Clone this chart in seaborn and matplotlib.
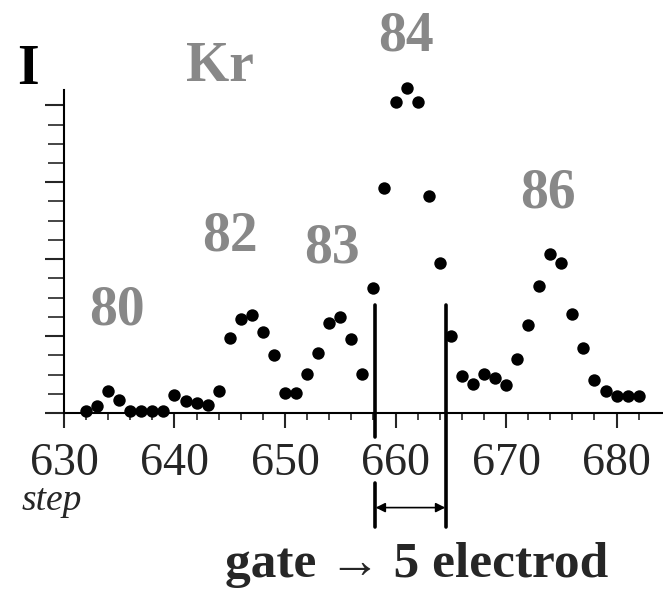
import numpy as np
import matplotlib
matplotlib.use('Agg')
import matplotlib.pyplot as plt
import seaborn as sns

# scan step and measured current (arbitrary units, one unit = one major y tick)
steps = [632, 633, 634, 635, 636, 637, 638, 639, 640, 641,
         642, 643, 644, 645, 646, 647, 648, 649, 650, 651,
         652, 653, 654, 655, 656, 657, 658, 659, 660, 661,
         662, 663, 664, 665, 666, 667, 668, 669, 670, 671,
         672, 673, 674, 675, 676, 677, 678, 679, 680, 681, 682]
intensity = [0.03, 0.095, 0.28, 0.17, 0.03, 0.03, 0.03, 0.03, 0.23, 0.16,
             0.13, 0.11, 0.28, 0.98, 1.22, 1.27, 1.05, 0.75, 0.26, 0.26,
             0.51, 0.78, 1.17, 1.25, 0.96, 0.51, 1.63, 2.93, 4.04, 4.22,
             4.04, 2.82, 1.95, 1.00, 0.48, 0.38, 0.51, 0.45, 0.37, 0.70,
             1.15, 1.65, 2.07, 1.95, 1.29, 0.85, 0.43, 0.28, 0.22, 0.22, 0.22]

# isotope labels and where they sit (step, intensity)
isotopes = ['80', '82', '83', '84', '86']
isotope_x = [634.8, 645.0, 654.2, 660.9, 673.8]
isotope_y = [1.33, 2.30, 2.14, 4.90, 2.86]

xticks = [630, 640, 650, 660, 670, 680]
gate = [658.1, 664.6]

sns.set_style('white')
plt.rcParams['font.family'] = ['Liberation Serif', 'DejaVu Serif']

fig = plt.figure(figsize=(6.63, 5.90), dpi=100)
ax = fig.add_axes([0.0965, 0.30, 0.9035, 0.5475])

sns.scatterplot(x=steps, y=intensity, color='black', s=80, linewidth=0,
                ax=ax, clip_on=False)

ax.set_xlim(630, 684.2)
ax.set_ylim(0, 4.2)
sns.despine(ax=ax)
for side in ['left', 'bottom']:
    ax.spines[side].set_linewidth(1.5)
    ax.spines[side].set_color('black')

ax.set_xticks(xticks)
ax.set_xticks(np.arange(632, 684, 2), minor=True)
ax.set_yticks([0, 1, 2, 3, 4])
ax.set_yticks(np.arange(0, 4.01, 0.25), minor=True)
ax.set_xticklabels([str(t) for t in xticks], fontsize=33)
ax.tick_params(axis='x', which='major', direction='out', length=11, width=1.5,
               pad=10, bottom=True)
ax.tick_params(axis='x', which='minor', direction='out', length=5, width=1.2,
               bottom=True)
ax.tick_params(axis='y', which='major', direction='out', length=13.5, width=1.5,
               left=True, labelleft=False)
ax.tick_params(axis='y', which='minor', direction='out', length=11.5, width=1.2,
               left=True)

# gate markers below the peak of 84
ax.plot([gate[0], gate[0]], [1.40, -0.31], color='black', lw=2.6, clip_on=False)
ax.plot([gate[0], gate[0]], [-0.91, -1.48], color='black', lw=2.6, clip_on=False)
ax.plot([gate[1], gate[1]], [1.40, -1.48], color='black', lw=2.6, clip_on=False)
ax.annotate('', xy=(gate[1] - 0.1, -1.23), xytext=(gate[0] + 0.1, -1.23),
            arrowprops=dict(arrowstyle='<|-|>', color='black', lw=1.2,
                            mutation_scale=14, shrinkA=0, shrinkB=0),
            annotation_clip=False)

for lab, xx, yy in zip(isotopes, isotope_x, isotope_y):
    ax.text(xx, yy, lab, color='#888888', fontsize=40, fontweight='bold',
            ha='center', va='center', clip_on=False)

ax.text(644.1, 4.50, 'Kr', color='#888888', fontsize=40, fontweight='bold',
        ha='center', va='center', clip_on=False)
fig.text(0.042, 0.882, 'I', color='black', fontsize=40, fontweight='bold',
         ha='center', va='center')
fig.text(0.078, 0.152, 'step', fontsize=27, style='italic',
         ha='center', va='center')
fig.text(0.628, 0.042, 'gate \u2192 5 electrod', fontsize=37, fontweight='bold',
         ha='center', va='center')

fig.savefig('out.png', dpi=100, facecolor='white')
